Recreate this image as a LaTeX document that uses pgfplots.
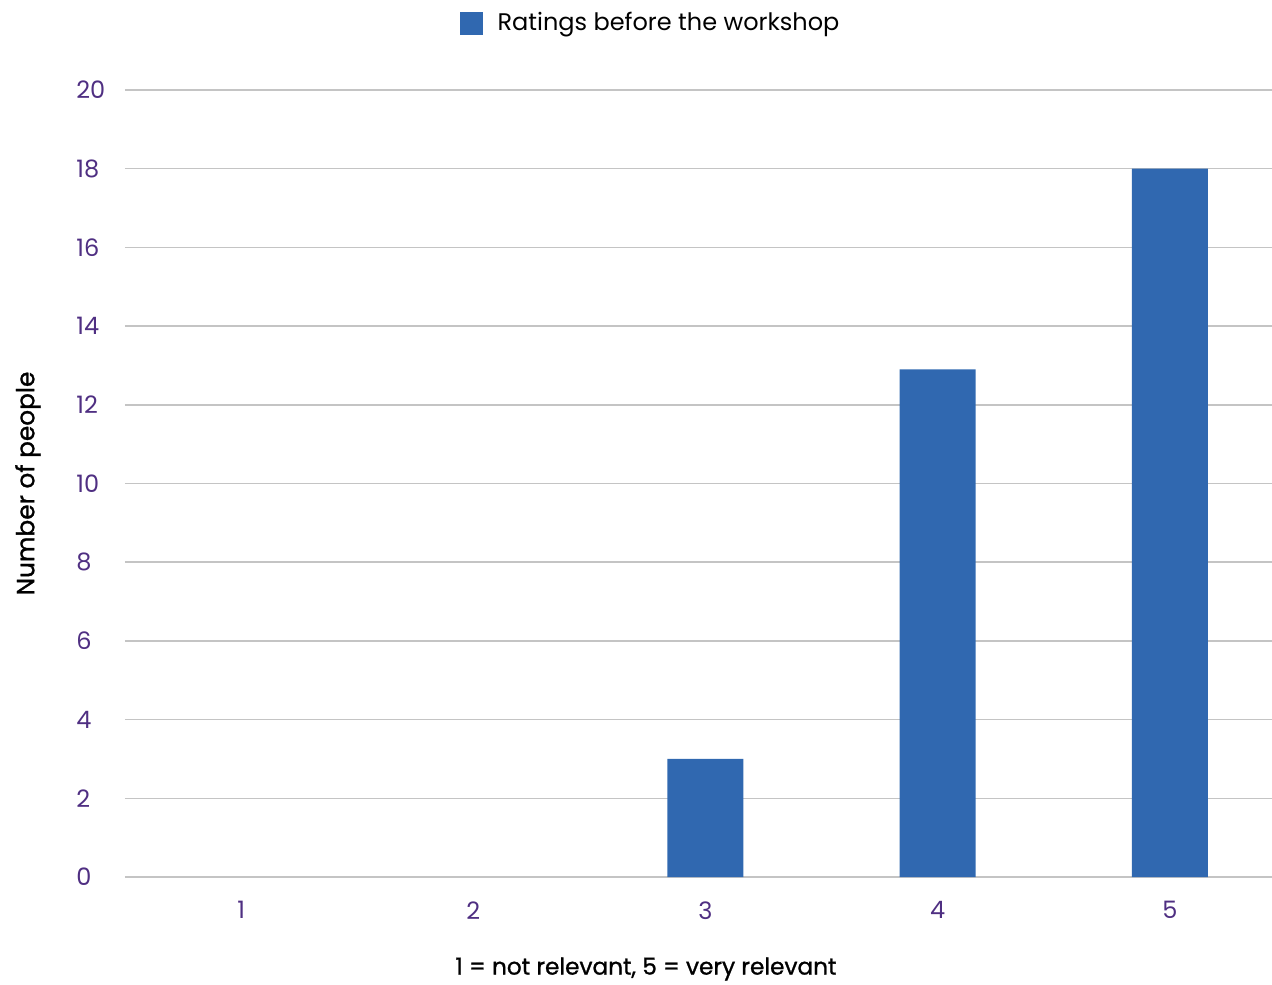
\documentclass[border=0pt]{standalone}
\usepackage{pgfplots}
\pgfplotsset{compat=1.18}
\usepackage{fontspec}
\setmainfont{Poppins}
\newfontfamily\medfont{Poppins}[FakeBold=1.1]

\definecolor{barblue}{HTML}{3068B0}
\definecolor{tickpurple}{HTML}{4F2F82}
\definecolor{gridgray}{HTML}{C4C4C4}

\begin{document}
\begin{tikzpicture}
\useasboundingbox (-62.5pt,-53.5pt) rectangle (573.5pt,438.5pt);
\begin{axis}[
  scale only axis,
  width=573.5pt, height=393.5pt,
  xmin=0.5, xmax=5.44,
  ymin=0, ymax=20,
  ytick={0,2,...,20},
  xtick={1,2,3,4,5},
  ymajorgrids,
  grid style={gridgray, line width=0.75pt},
  axis line style={draw=none},
  major tick length=0pt,
  tick label style={font=\fontsize{12}{14}\selectfont, text=tickpurple},
  yticklabel style={anchor=west, inner sep=0pt, xshift=-24.5pt},
  xticklabel style={inner sep=0pt, yshift=-12pt},
  /pgf/number format/assume math mode=true,
  ybar, bar width=38pt,
  xlabel={1 = not relevant, 5 = very relevant},
  ylabel={Number of people},
  every axis x label/.style={at={(axis description cs:0.4542,0)}, yshift=-46pt, anchor=center, font=\medfont\fontsize{11.6}{13}\selectfont},
  every axis y label/.style={at={([xshift=-48.5pt]axis description cs:0,0.5)}, rotate=90, anchor=center, font=\medfont\fontsize{12.4}{14}\selectfont},
  legend style={at={(axis description cs:0.4573,1.0851)}, anchor=center, draw=none, fill=none, inner sep=0pt,
    nodes={inner sep=0pt, anchor=west, font=\fontsize{12}{14}\selectfont}},
  legend image code/.code={\fill[barblue] (0pt,-5.75pt) rectangle (11.5pt,5.75pt); \path (19pt,0pt);},
]
% nobody gave a rating of 1 or 2, so only ratings 3 to 5 get a bar
\addplot[fill=barblue, draw=none] coordinates {(3,3) (4,12.9) (5,18)};
\addlegendentry{Ratings before the workshop}
\end{axis}
\end{tikzpicture}
\end{document}
